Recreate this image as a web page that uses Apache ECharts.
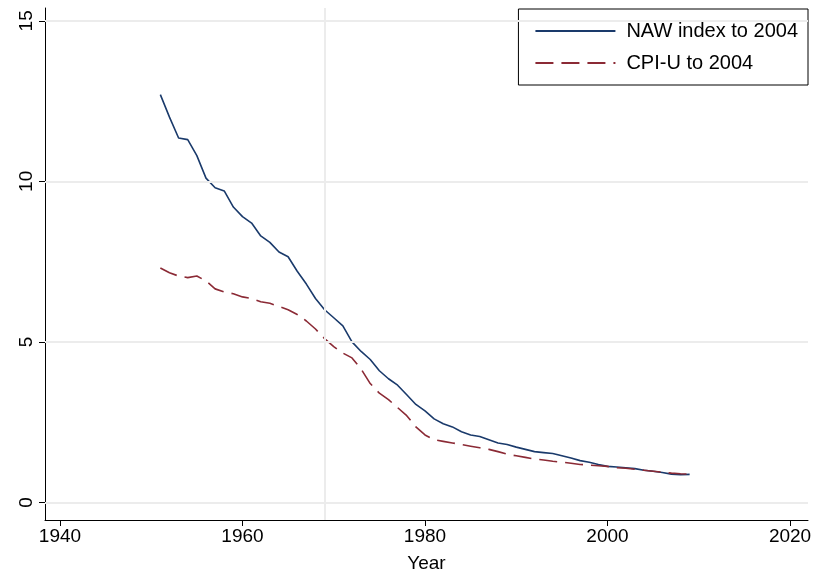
<!DOCTYPE html>
<html><head><meta charset="utf-8">
<script src="https://cdn.jsdelivr.net/npm/echarts@6/dist/echarts.min.js"></script>
<style>html,body{margin:0;background:#fff}#c{width:820px;height:571px}</style>
</head><body><div id="c"></div>
<script>
const years = [];
for (let y = 1951; y <= 2009; y++) years.push(y);
const naw = [12.7,12.0,11.35,11.3,10.8,10.1,9.8,9.7,9.2,8.9,8.7,8.3,8.1,7.8,7.65,7.2,6.8,6.35,6.0,5.75,5.5,5.0,4.7,4.45,4.1,3.85,3.65,3.35,3.05,2.85,2.6,2.45,2.35,2.2,2.1,2.05,1.95,1.85,1.8,1.72,1.65,1.58,1.55,1.52,1.45,1.38,1.3,1.25,1.18,1.12,1.1,1.08,1.05,1.0,0.97,0.93,0.88,0.86,0.87];
const cpi = [7.3,7.15,7.05,7.0,7.05,6.9,6.65,6.55,6.5,6.4,6.35,6.25,6.2,6.1,6.0,5.85,5.65,5.4,5.1,4.85,4.65,4.5,4.15,3.7,3.4,3.2,2.95,2.7,2.35,2.1,1.95,1.9,1.85,1.8,1.75,1.7,1.65,1.58,1.5,1.45,1.4,1.35,1.32,1.28,1.25,1.22,1.18,1.16,1.14,1.12,1.08,1.06,1.03,1.0,0.97,0.94,0.91,0.89,0.88];
const xTicks = [1940, 1960, 1980, 2000, 2020];
const yTicks = [0, 5, 10, 15];
const markYear = 1969;

const chart = echarts.init(document.getElementById('c'));
const font = 'Liberation Sans, Arial, sans-serif';
chart.setOption({
  animation: false,
  grid: { left: 45, right: 12, top: 8, bottom: 51, containLabel: false, outerBoundsMode: 'none' },
  legend: {
    orient: 'vertical', right: 12, top: 9, itemWidth: 80, itemHeight: 12, itemGap: 12,
    borderColor: '#000', borderWidth: 1, padding: [12, 10, 12, 16], backgroundColor: '#fff',
    itemStyle: { opacity: 0 },
    textStyle: { fontFamily: font, fontSize: 20, color: '#000', padding: [0, 0, 0, 6] },
    data: ['NAW index to 2004', 'CPI-U to 2004']
  },
  xAxis: {
    type: 'value', min: 1938.36, max: 2021.97,
    name: 'Year', nameLocation: 'middle', nameGap: 34,
    nameTextStyle: { fontFamily: font, fontSize: 19, color: '#000' },
    axisLine: { show: true, onZero: false, lineStyle: { color: '#000' } },
    axisTick: { show: true, length: 6, lineStyle: { color: '#000' }, customValues: xTicks },
    axisLabel: { fontFamily: font, fontSize: 19, color: '#000', margin: 7, customValues: xTicks, formatter: v => String(v) },
    splitLine: { show: false }
  },
  yAxis: {
    type: 'value', min: -0.55, max: 15.4,
    axisLine: { show: true, lineStyle: { color: '#000' } },
    axisTick: { show: true, length: 6, lineStyle: { color: '#000' }, customValues: yTicks },
    axisLabel: { fontFamily: font, fontSize: 19, color: '#000', rotate: 90, margin: 9, customValues: yTicks },
    splitLine: { show: false }
  },
  series: [
    {
      name: 'NAW index to 2004', type: 'line', symbol: 'none',
      data: years.map((y, i) => [y, naw[i]]),
      lineStyle: { color: '#1a3a6b', width: 1.6 }, itemStyle: { color: '#1a3a6b' },
      markLine: {
        silent: true, symbol: 'none', label: { show: false },
        lineStyle: { color: '#ececec', width: 2, type: 'solid' },
        data: [{ xAxis: markYear }].concat(yTicks.map(v => ({ yAxis: v })))
      },
      z: 3
    },
    {
      name: 'CPI-U to 2004', type: 'line', symbol: 'none',
      data: years.map((y, i) => [y, cpi[i]]),
      lineStyle: { color: '#8b2a35', width: 1.6, type: [18, 8] }, itemStyle: { color: '#8b2a35' },
      z: 3
    }
  ]
});
</script></body></html>
